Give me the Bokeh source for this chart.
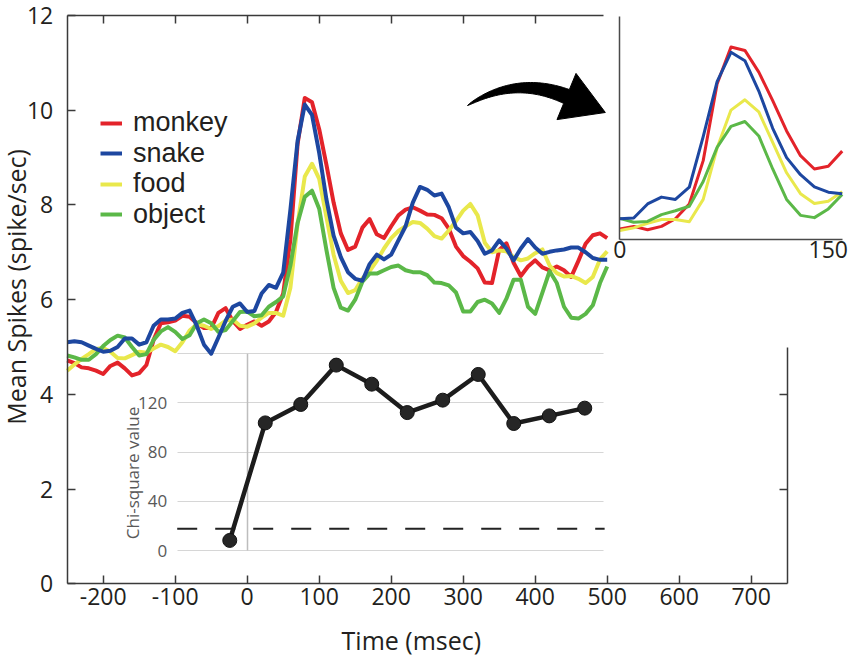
import numpy as np
from bokeh.plotting import figure
from bokeh.models import (Range1d, LinearAxis, FixedTicker, Legend, LegendItem,
                          Label, Grid, ColumnDataSource)
from bokeh.embed import file_html
from bokeh.resources import INLINE

# ---------------- data ----------------
time_ms = list(range(-250, 501, 10))

monkey = [4.72, 4.66, 4.57, 4.55, 4.50, 4.43, 4.60, 4.67, 4.55, 4.40,
          4.45, 4.62, 5.15, 5.50, 5.52, 5.56, 5.66, 5.64, 5.50, 5.40,
          5.40, 5.72, 5.82, 5.55, 5.38,
          5.47, 5.54, 5.45, 5.54, 5.74, 6.13, 7.27, 9.29, 10.26, 10.17,
          9.60, 8.85, 8.05, 7.40, 7.05, 7.12, 7.52, 7.70, 7.38, 7.30,
          7.55, 7.78, 7.90, 7.95, 7.88, 7.80, 7.79, 7.72, 7.50, 7.12,
          6.92, 6.80, 6.66, 6.36, 6.35, 7.05, 7.19, 6.78, 6.50, 6.70,
          6.83, 6.68, 6.62, 6.70, 6.62, 6.48, 6.82, 7.18, 7.36, 7.40, 7.30]

snake = [5.10, 5.12, 5.10, 5.03, 4.96, 4.90, 4.92, 5.00, 5.18, 5.18,
         5.05, 5.10, 5.45, 5.58, 5.58, 5.60, 5.72, 5.77, 5.45, 5.05,
         4.86, 5.20, 5.55, 5.85, 5.92,
         5.74, 5.76, 6.13, 6.31, 6.25, 6.57, 7.90, 9.35, 10.12, 9.90,
         9.10, 8.12, 7.35, 6.90, 6.58, 6.44, 6.40, 6.75, 6.95, 6.85,
         6.95, 7.25, 7.55, 8.05, 8.38, 8.32, 8.20, 8.24, 7.95, 7.52,
         7.40, 7.43, 7.24, 6.97, 7.04, 7.25, 7.08, 6.83, 7.08, 7.28,
         7.10, 6.97, 7.01, 7.04, 7.06, 7.10, 7.10, 7.00, 6.88, 6.84, 6.84]

food = [4.50, 4.63, 4.75, 4.85, 4.96, 4.98, 4.90, 4.77, 4.76, 4.83,
        4.90, 4.88, 4.97, 5.05, 5.00, 4.91, 5.10, 5.35, 5.48, 5.45,
        5.38, 5.44, 5.56, 5.58, 5.45,
        5.43, 5.50, 5.62, 5.72, 5.72, 5.66, 6.25, 7.60, 8.60, 8.87,
        8.55, 7.75, 6.95, 6.40, 6.14, 6.20, 6.45, 6.60, 6.82, 7.08,
        7.30, 7.45, 7.55, 7.64, 7.62, 7.50, 7.34, 7.29, 7.46, 7.66,
        7.88, 8.02, 7.78, 7.20, 7.00, 7.04, 7.02, 6.90, 6.83, 6.87,
        6.98, 7.06, 6.72, 6.56, 6.49, 6.50, 6.44, 6.35, 6.48, 6.85, 7.02]

obj = [4.82, 4.78, 4.73, 4.73, 4.85, 5.02, 5.15, 5.24, 5.20, 5.00,
       4.82, 4.85, 5.15, 5.33, 5.42, 5.32, 5.17, 5.25, 5.50, 5.58,
       5.50, 5.32, 5.36, 5.55, 5.74,
       5.75, 5.65, 5.67, 5.85, 5.95, 6.07, 6.72, 7.62, 8.17, 8.30,
       7.92, 7.05, 6.25, 5.83, 5.77, 6.00, 6.38, 6.55, 6.55, 6.62,
       6.69, 6.72, 6.62, 6.58, 6.58, 6.52, 6.36, 6.35, 6.30, 6.15,
       5.75, 5.75, 5.95, 6.00, 5.92, 5.72, 6.02, 6.42, 6.42, 5.85,
       5.70, 6.15, 6.60, 6.35, 5.85, 5.62, 5.60, 5.70, 5.88, 6.35, 6.70]

series_names = ["monkey", "snake", "food", "object"]
series_colors = ["#e3232a", "#1d47a0", "#e9e84c", "#5bb848"]

chi_time = [-25, 25, 75, 125, 175, 225, 275, 325, 375, 425, 475]
chi_value = [8.2, 103.8, 118.8, 150.8, 135.3, 112.2, 122.3, 143.2, 103.3, 109.5, 115.8]
chi_threshold = 17.7
chi_label_ticks = [0, 40, 80, 120]
chi_grid_ticks = [0, 40, 80, 120, 160]

x_ticks = [-200, -100, 0, 100, 200, 300, 400, 500, 600, 700]
y_ticks = [0, 2, 4, 6, 8, 10, 12]
inset_ticks = [0, 150]
inset_window = (0, 160)

# ---------------- layout helpers (page pixels) ----------------
W, H = 850, 659


def span(v0, p0, v1, p1, lo_px, hi_px):
    s = (p1 - p0) / (v1 - v0)
    return Range1d(v0 + (lo_px - p0) / s, v0 + (hi_px - p0) / s)


X_LO, X_HI = 0, W
Y_LO, Y_HI = H, 0

main_x = span(-250, 66.7, 750, 786.7, X_LO, X_HI)
main_y = span(0, 583.3, 12, 15.0, Y_LO, Y_HI)

p = figure(width=W, height=H, x_range=main_x, y_range=main_y,
           x_axis_type=None, y_axis_type=None, output_backend="svg",
           toolbar_location=None, min_border=0)
p.outline_line_color = None
p.background_fill_color = "white"
p.border_fill_color = "white"

p.extra_x_ranges = {
    "chi_x": span(0, 247.0, 500, 602.0, X_LO, X_HI),
    "ins_x": span(0, 619.3, 160, 841.7, X_LO, X_HI),
    "px_x": Range1d(X_LO, X_HI),
}
p.extra_y_ranges = {
    "chi_y": span(0, 550.0, 160, 353.3, Y_LO, Y_HI),
    "ins_y": span(10.36, 42.7, 5.2, 238.8, Y_LO, Y_HI),
    "px_y": Range1d(Y_LO, Y_HI),
}

AX = "#3a3a3a"
TXT = "#231f20"
FONT = "Open Sans"


def style_axis(ax, size="23px"):
    ax.axis_line_color = AX
    ax.axis_line_width = 1.5
    ax.major_tick_line_color = AX
    ax.major_tick_line_width = 1.5
    ax.major_tick_in = 8
    ax.major_tick_out = 0
    ax.minor_tick_line_color = None
    ax.major_label_text_font = FONT
    ax.major_label_text_font_size = size
    ax.major_label_text_color = TXT


# ---------------- main axes (box with inward ticks) ----------------
left = LinearAxis(fixed_location=-250, bounds=(0, 12), ticker=FixedTicker(ticks=y_ticks))
style_axis(left)
left.major_label_standoff = 14
p.add_layout(left, "left")

bottom = LinearAxis(fixed_location=0, bounds=(-250, 750), ticker=FixedTicker(ticks=x_ticks))
style_axis(bottom)
bottom.major_label_standoff = 4
bottom.major_label_overrides = {t: str(t) for t in x_ticks}
p.add_layout(bottom, "below")

top = LinearAxis(fixed_location=12, bounds=(-250, 495),
                 ticker=FixedTicker(ticks=[t for t in x_ticks if t <= 400]))
style_axis(top, "0px")
top.major_label_overrides = {t: "" for t in x_ticks}
p.add_layout(top, "above")

right = LinearAxis(fixed_location=750, bounds=(0, 5.0), ticker=FixedTicker(ticks=[2, 4]))
style_axis(right, "0px")
right.major_label_overrides = {t: "" for t in y_ticks}
p.add_layout(right, "right")

# axis titles
p.add_layout(Label(x=228.0, y=-1.18, text="Time (msec)", text_align="center",
                   text_baseline="alphabetic", text_font=FONT, text_font_size="25px",
                   text_color=TXT))
p.add_layout(Label(x=-321.5, y=6.27, text="Mean Spikes (spike/sec)", angle=np.pi / 2,
                   text_align="center", text_baseline="alphabetic", text_font=FONT,
                   text_font_size="25px", text_color=TXT))

# ---------------- chi-square inset ----------------
chi_grid = Grid(dimension=1, ticker=FixedTicker(ticks=chi_grid_ticks),
                x_range_name="chi_x", y_range_name="chi_y",
                cross_bounds=(-99, 501), grid_line_color="#d6d6d6", grid_line_width=1.2)
p.add_layout(chi_grid)

p.segment(x0=[0], y0=[0], x1=[0], y1=[chi_grid_ticks[-1]], x_range_name="chi_x",
          y_range_name="chi_y", line_color="#bdbdbd", line_width=1.5)
p.segment(x0=[-99], y0=[chi_threshold], x1=[503], y1=[chi_threshold],
          x_range_name="chi_x", y_range_name="chi_y", line_color="#222222",
          line_width=2, line_dash="20 18")

chi_axis = LinearAxis(x_range_name="chi_x", y_range_name="chi_y", fixed_location=-99,
                      bounds=(0, 126), ticker=FixedTicker(ticks=chi_label_ticks),
                      axis_label="Chi-square value")
chi_axis.axis_line_color = None
chi_axis.major_tick_line_color = None
chi_axis.minor_tick_line_color = None
chi_axis.major_tick_in = 0
chi_axis.major_tick_out = 0
chi_axis.major_label_standoff = 10
chi_axis.major_label_text_font = FONT
chi_axis.major_label_text_font_size = "17px"
chi_axis.major_label_text_color = "#595959"
chi_axis.axis_label_text_font = FONT
chi_axis.axis_label_text_font_size = "17px"
chi_axis.axis_label_text_font_style = "normal"
chi_axis.axis_label_text_color = "#595959"
chi_axis.axis_label_standoff = -9
p.add_layout(chi_axis, "left")

chi_src = ColumnDataSource(dict(t=chi_time, v=chi_value))
p.line("t", "v", source=chi_src, x_range_name="chi_x", y_range_name="chi_y",
       line_color="#1c1c1c", line_width=4.5)
p.scatter("t", "v", source=chi_src, x_range_name="chi_x", y_range_name="chi_y",
          size=14, fill_color="#262626", line_color="#111111", line_width=1)

# ---------------- main curves ----------------
data = {"monkey": monkey, "snake": snake, "food": food, "object": obj}
src = ColumnDataSource(dict(t=time_ms, **data))
renderers = {}
for name in ["monkey", "food", "object", "snake"]:
    c = series_colors[series_names.index(name)]
    renderers[name] = p.line("t", name, source=src, line_color=c, line_width=4,
                             line_join="round")

# ---------------- zoom inset (0-160 ms) ----------------
i0 = time_ms.index(inset_window[0])
i1 = time_ms.index(inset_window[1]) + 1
ins_src = ColumnDataSource(dict(t=time_ms[i0:i1], **{k: v[i0:i1] for k, v in data.items()}))
for name in ["monkey", "food", "object", "snake"]:
    c = series_colors[series_names.index(name)]
    p.line("t", name, source=ins_src, x_range_name="ins_x", y_range_name="ins_y",
           line_color=c, line_width=3, line_join="round")

ins_left = LinearAxis(x_range_name="ins_x", y_range_name="ins_y", fixed_location=0,
                      bounds=(5.2, 11.05), ticker=FixedTicker(ticks=[]))
ins_left.axis_line_color = "#4a4a4a"
ins_left.axis_line_width = 1.5
ins_left.major_tick_line_color = None
ins_left.minor_tick_line_color = None
p.add_layout(ins_left, "left")

ins_bottom = LinearAxis(x_range_name="ins_x", y_range_name="ins_y", fixed_location=5.2,
                        bounds=inset_window, ticker=FixedTicker(ticks=inset_ticks))
ins_bottom.axis_line_color = "#4a4a4a"
ins_bottom.axis_line_width = 1.5
ins_bottom.major_tick_line_color = None
ins_bottom.minor_tick_line_color = None
ins_bottom.major_tick_in = 0
ins_bottom.major_tick_out = 0
ins_bottom.major_label_standoff = 2
ins_bottom.major_label_text_font = FONT
ins_bottom.major_label_text_font_size = "23px"
ins_bottom.major_label_text_color = TXT
p.add_layout(ins_bottom, "below")

# ---------------- curved arrow (decoration, page pixels) ----------------
tt = np.linspace(0, 1, 40)
P0 = np.array([467.0, 105.0]); C = np.array([515.0, 75.0]); E = np.array([566.0, 96.0])
B = ((1 - tt) ** 2)[:, None] * P0 + (2 * (1 - tt) * tt)[:, None] * C + (tt ** 2)[:, None] * E
D = (2 * (1 - tt))[:, None] * (C - P0) + (2 * tt)[:, None] * (E - C)
D = D / np.linalg.norm(D, axis=1)[:, None]
N = np.stack([-D[:, 1], D[:, 0]], axis=1)
wdt = 7.5 * tt ** 0.7
upper = B - N * wdt[:, None]
lower = B + N * wdt[:, None]
d1, n1 = D[-1], N[-1]
tip = E + 42 * d1
cu = E - 25 * n1
cl = E + 25 * n1
poly = np.vstack([upper, cu, tip, cl, lower[::-1]])
p.patch(poly[:, 0], poly[:, 1], x_range_name="px_x", y_range_name="px_y",
        fill_color="black", line_color="black", line_width=1)

# ---------------- legend (one row per entry, tight row spacing) ----------------
row_centers = [123, 153.5, 184, 214.5]
ROW_H = 30.5
for name, cy in zip(series_names, row_centers):
    lg = Legend(items=[LegendItem(label=name, renderers=[renderers[name]])],
                location=(100, H - cy - ROW_H / 2), orientation="vertical")
    lg.label_text_font = "Liberation Sans"
    lg.label_text_font_size = "27px"
    lg.label_text_color = TXT
    lg.glyph_width = 22
    lg.glyph_height = 28
    lg.label_height = 28
    lg.label_standoff = 11
    lg.padding = 0
    lg.margin = 0
    lg.border_line_color = None
    lg.background_fill_alpha = 0
    p.add_layout(lg)

open("out.html", "w").write(file_html(p, INLINE))
